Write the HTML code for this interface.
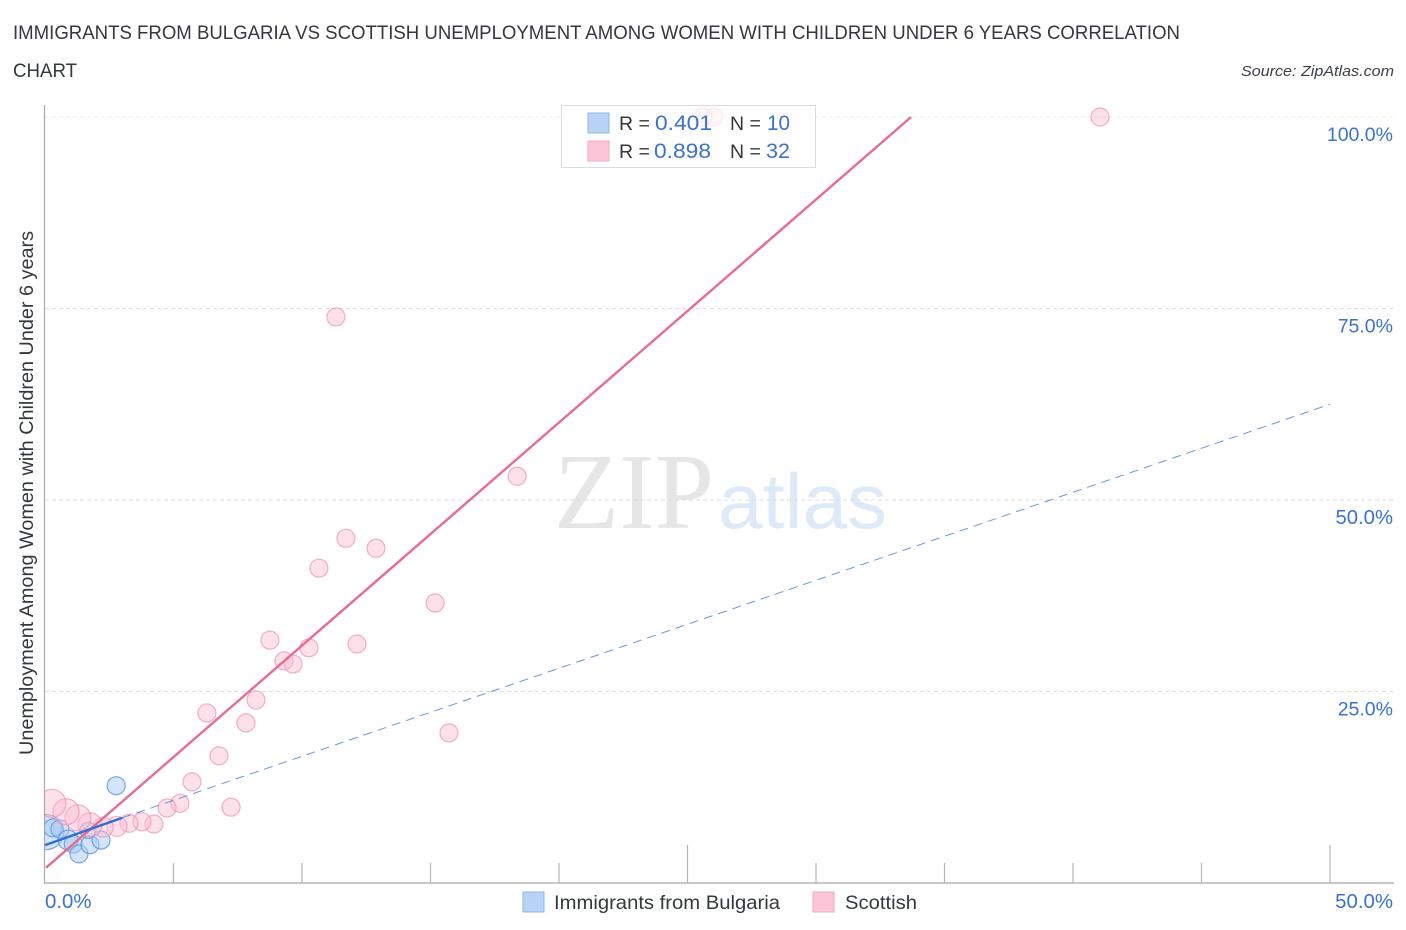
<!DOCTYPE html>
<html>
<head>
<meta charset="utf-8">
<title>Immigrants from Bulgaria vs Scottish correlation chart</title>
<style>
html,body{margin:0;padding:0;background:#fff;}
svg{display:block;}
text{font-family:"Liberation Sans",sans-serif;}
</style>
</head>
<body>
<svg id="chart" xmlns="http://www.w3.org/2000/svg" width="1406" height="930" viewBox="0 0 1406 930">
  <defs>
    <clipPath id="plot-clip"><rect x="45" y="90" width="1361" height="793"/></clipPath>
  </defs>
  <text x="13" y="39" font-size="19.5" fill="#33373e" textLength="1167" lengthAdjust="spacingAndGlyphs">IMMIGRANTS FROM BULGARIA VS SCOTTISH UNEMPLOYMENT AMONG WOMEN WITH CHILDREN UNDER 6 YEARS CORRELATION</text>
  <text x="13" y="77" font-size="19.5" fill="#33373e" textLength="64" lengthAdjust="spacingAndGlyphs">CHART</text>
  <text x="1241" y="76" font-size="15" font-style="italic" fill="#3c4048" textLength="153" lengthAdjust="spacingAndGlyphs">Source: ZipAtlas.com</text>

  <g>
    <text x="554" y="528" font-size="108" fill="#e6e6e6" style="font-family:'Liberation Serif',serif" textLength="160" lengthAdjust="spacingAndGlyphs">ZIP</text>
    <text x="718" y="528" font-size="78" fill="#dfeaf9" textLength="169" lengthAdjust="spacingAndGlyphs">atlas</text>
  </g>

  <g id="grid"></g>
  <g id="blue-points" clip-path="url(#plot-clip)"></g>
  <g id="pink-points" clip-path="url(#plot-clip)"></g>
  <g id="axes"></g>
  <g id="trends"></g>

  <text transform="translate(33,755) rotate(-90)" font-size="19" fill="#33373e" textLength="524" lengthAdjust="spacingAndGlyphs">Unemployment Among Women with Children Under 6 years</text>

  <g>
    <rect x="561.5" y="105.5" width="254" height="62" fill="#fff" fill-opacity="0.72" stroke="#dcdcdc" stroke-width="1"/>
    <rect x="588" y="113" width="21" height="20" fill="#b9d3f6" stroke="#8fb6ea" stroke-width="1"/>
    <rect x="588" y="141" width="21" height="20" fill="#fcc6d8" stroke="#f3a9c2" stroke-width="1"/>
    <text x="619" y="130" font-size="19.5" fill="#33373e">R =</text>
    <text x="655" y="130" font-size="21" fill="#3b72d0" textLength="57" lengthAdjust="spacingAndGlyphs">0.401</text>
    <text x="730" y="130" font-size="19.5" fill="#33373e">N =</text>
    <text x="767" y="130" font-size="21" fill="#3b72d0" textLength="23" lengthAdjust="spacingAndGlyphs">10</text>
    <text x="619" y="158" font-size="19.5" fill="#33373e">R =</text>
    <text x="654" y="158" font-size="21" fill="#3b72d0" textLength="57" lengthAdjust="spacingAndGlyphs">0.898</text>
    <text x="730" y="158" font-size="19.5" fill="#33373e">N =</text>
    <text x="766" y="158" font-size="21" fill="#3b72d0" textLength="24" lengthAdjust="spacingAndGlyphs">32</text>
  </g>

  <g>
    <rect x="523" y="892" width="21" height="20" fill="#b9d3f6" stroke="#8fb6ea" stroke-width="1"/>
    <text x="554" y="909" font-size="19.5" fill="#33373e" textLength="226" lengthAdjust="spacingAndGlyphs">Immigrants from Bulgaria</text>
    <rect x="813" y="892" width="21" height="20" fill="#fcc6d8" stroke="#f3a9c2" stroke-width="1"/>
    <text x="845" y="909" font-size="19.5" fill="#33373e" textLength="72" lengthAdjust="spacingAndGlyphs">Scottish</text>
  </g>
</svg>
<script>
// Data (x and y in percent, size = bubble radius in px)
var bulgariaX = [2.77, 0.05, 0.31, 0.58, 0.9, 1.1, 1.32, 1.75, 2.18, 1.67];
var bulgariaY = [12.7, 6.65, 7.2, 7.05, 5.6, 5.1, 3.8, 5.0, 5.6, 6.85];
var bulgariaSize = [9, 17.5, 9, 9, 10, 9, 9, 9, 9, 8];

var scottishX = [41.05, 26.03, 25.6, 11.32, 18.37, 11.71, 12.88, 10.66, 15.18, 8.75, 12.14, 10.27, 9.3, 9.65, 8.21, 6.3, 7.82, 15.72, 6.77, 5.72, 7.24, 5.25, 4.75, 4.24, 3.77, 3.27, 2.8, 2.26, 1.75, 1.28, 0.82, 0.27];
var scottishY = [100, 100, 100, 73.9, 53.1, 45.0, 43.7, 41.1, 36.55, 31.7, 31.2, 30.7, 29.0, 28.6, 23.9, 22.2, 20.9, 19.6, 16.6, 13.2, 9.9, 10.4, 9.8, 7.7, 8.0, 7.8, 7.4, 7.3, 7.6, 8.5, 9.3, 10.4];
var scottishSize = [9, 9, 9, 9, 9, 9, 9, 9, 9, 9, 9, 9, 9, 9, 9, 9, 9, 9, 9, 9, 9, 9, 9, 9, 9, 9, 10, 10, 12, 13, 13, 14];

var yTickValues = [25, 50, 75, 100];
var yTickLabels = ["25.0%", "50.0%", "75.0%", "100.0%"];
var xTickValues = [0, 5, 10, 15, 20, 25, 30, 35, 40, 45, 50];
var xMajorTicks = [25, 50];
var xEdgeValues = [0, 50];
var xEdgeLabels = ["0.0%", "50.0%"];

var scottishTrendX = [0.04, 33.7];
var scottishTrendY = [2.0, 100];
var bulgariaSolidX = [0, 3];
var bulgariaSolidY = [4.95, 8.5];
var bulgariaDashX = [3, 50];
var bulgariaDashY = [8.5, 62.5];

function xPos(v) { return 45 + v * 25.7; }
function yPos(v) { return 883 - v * 7.66; }

var NS = 'http://www.w3.org/2000/svg';
function make(tag, parent, attrs) {
  var el = document.createElementNS(NS, tag);
  for (var k in attrs) el.setAttribute(k, attrs[k]);
  parent.appendChild(el);
  return el;
}

var grid = document.getElementById('grid');
var axes = document.getElementById('axes');
var bluePts = document.getElementById('blue-points');
var pinkPts = document.getElementById('pink-points');
var trends = document.getElementById('trends');

yTickValues.forEach(function (v, i) {
  var line = make('line', grid, {x1: 45, x2: 1394, y1: yPos(v), y2: yPos(v), stroke: v === 100 ? '#ececec' : '#dcdcdc', 'stroke-width': 1, 'stroke-dasharray': '4 3'});
  
  
  var label = make('text', axes, {x: 1393, y: yPos(v) + 24, 'font-size': v === 50 ? 20.3 : 19.5, fill: '#3b72d0', 'text-anchor': 'end'});
  
  
  label.textContent = yTickLabels[i];
});

var yAxis = make('line', axes, {x1: 44.5, x2: 44.5, y1: 105, y2: 884, stroke: '#aaaaaa', 'stroke-width': 1.2});


var xAxis = make('line', axes, {x1: 44, x2: 1394, y1: 883, y2: 883, stroke: '#b5b5b5', 'stroke-width': 1.5});



xTickValues.forEach(function (v) {
  if (v === 0) return;
  var tall = xMajorTicks.indexOf(v) >= 0;
  var tick = make('line', axes, {x1: xPos(v), x2: xPos(v), y1: tall ? 845 : 863, y2: 883, stroke: '#b5b5b5', 'stroke-width': 1.2});
  
  
});

xEdgeValues.forEach(function (v, i) {
  var label = make('text', axes, {x: v === 0 ? xPos(v) : 1393, y: 908, 'font-size': 20.4, fill: '#3b72d0', 'text-anchor': v === 0 ? 'start' : 'end'});
  
  
  label.textContent = xEdgeLabels[i];
});

bulgariaX.forEach(function (x, i) {
  var pt = make('circle', bluePts, {cx: xPos(x), cy: yPos(bulgariaY[i]), r: bulgariaSize[i], fill: '#a9caf3', 'fill-opacity': 0.5, stroke: '#5b93dc', 'stroke-opacity': 0.8, 'stroke-width': 1.2});
  
  
});

scottishX.forEach(function (x, i) {
  var pt = make('circle', pinkPts, {cx: xPos(x), cy: yPos(scottishY[i]), r: scottishSize[i], fill: '#fbbdd1', 'fill-opacity': 0.45, stroke: '#ee8fae', 'stroke-opacity': 0.7, 'stroke-width': 1.2});
  
  
});

var dash = make('line', trends, {x1: xPos(bulgariaDashX[0]), y1: yPos(bulgariaDashY[0]), x2: xPos(bulgariaDashX[1]), y2: yPos(bulgariaDashY[1]), stroke: '#4f86d8', 'stroke-width': 1, 'stroke-opacity': 0.85, 'stroke-dasharray': '9 6'});



var pinkLine = make('line', trends, {x1: xPos(scottishTrendX[0]), y1: yPos(scottishTrendY[0]), x2: xPos(scottishTrendX[1]), y2: yPos(scottishTrendY[1]), stroke: '#e96a94', 'stroke-width': 2.4});



var blueLine = make('line', trends, {x1: xPos(bulgariaSolidX[0]), y1: yPos(bulgariaSolidY[0]), x2: xPos(bulgariaSolidX[1]), y2: yPos(bulgariaSolidY[1]), stroke: '#2f6fd0', 'stroke-width': 2.4});


</script>
</body>
</html>
